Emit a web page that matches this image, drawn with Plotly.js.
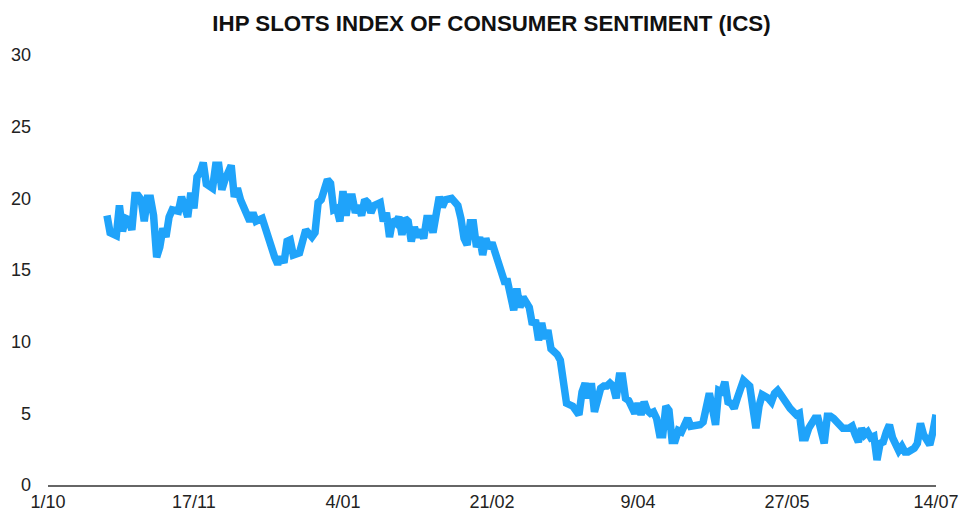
<!DOCTYPE html>
<html>
<head>
<meta charset="utf-8">
<script src="https://cdn.plot.ly/plotly-3.0.1.min.js"></script>
<style>html,body{margin:0;padding:0;background:#fff;}#chart{width:960px;height:512px;}</style>
</head>
<body>
<div id="chart"></div>
<script>
const chartTitle = "IHP SLOTS INDEX OF CONSUMER SENTIMENT (ICS)";
const dates = [
"2018-10-20","2018-10-21","2018-10-23","2018-10-24","2018-10-25","2018-10-26","2018-10-27","2018-10-28","2018-10-29","2018-10-30","2018-10-31",
"2018-11-01","2018-11-02","2018-11-03","2018-11-04","2018-11-05","2018-11-06","2018-11-07","2018-11-08","2018-11-09","2018-11-10","2018-11-12","2018-11-13","2018-11-15","2018-11-16","2018-11-17","2018-11-18","2018-11-19","2018-11-20","2018-11-21","2018-11-23","2018-11-24","2018-11-25","2018-11-26","2018-11-27","2018-11-29","2018-11-30",
"2018-12-01","2018-12-02","2018-12-03","2018-12-04","2018-12-05","2018-12-06","2018-12-07","2018-12-09","2018-12-10","2018-12-11","2018-12-12","2018-12-13","2018-12-14","2018-12-15","2018-12-16","2018-12-17","2018-12-18","2018-12-19","2018-12-21","2018-12-22","2018-12-23","2018-12-25","2018-12-26","2018-12-27","2018-12-28","2018-12-29","2018-12-30","2018-12-31",
"2019-01-01","2019-01-02","2019-01-03","2019-01-04","2019-01-05","2019-01-06","2019-01-07","2019-01-08","2019-01-09","2019-01-10","2019-01-11","2019-01-12","2019-01-13","2019-01-14","2019-01-16","2019-01-17","2019-01-18","2019-01-19","2019-01-20","2019-01-21","2019-01-22","2019-01-23","2019-01-24","2019-01-25","2019-01-26","2019-01-27","2019-01-28","2019-01-29","2019-01-30","2019-01-31",
"2019-02-01","2019-02-02","2019-02-03","2019-02-04","2019-02-05","2019-02-06","2019-02-08","2019-02-10","2019-02-11","2019-02-12","2019-02-13","2019-02-14","2019-02-15","2019-02-16","2019-02-17","2019-02-18","2019-02-19","2019-02-20","2019-02-21","2019-02-22","2019-02-23","2019-02-24","2019-02-25","2019-02-26","2019-02-27","2019-02-28",
"2019-03-01","2019-03-02","2019-03-03","2019-03-05","2019-03-06","2019-03-07","2019-03-08","2019-03-09","2019-03-10","2019-03-11","2019-03-12","2019-03-14","2019-03-15","2019-03-16","2019-03-17","2019-03-19","2019-03-20","2019-03-21","2019-03-22","2019-03-23","2019-03-24","2019-03-25","2019-03-26","2019-03-27","2019-03-28","2019-03-29","2019-03-30","2019-03-31",
"2019-04-01","2019-04-02","2019-04-03","2019-04-04","2019-04-05","2019-04-06","2019-04-07","2019-04-08","2019-04-09","2019-04-10","2019-04-11","2019-04-12","2019-04-13","2019-04-14","2019-04-15","2019-04-16","2019-04-17","2019-04-18","2019-04-19","2019-04-20","2019-04-21","2019-04-22","2019-04-23","2019-04-24","2019-04-25","2019-04-26","2019-04-28","2019-04-29","2019-04-30",
"2019-05-01","2019-05-02","2019-05-03","2019-05-04","2019-05-05","2019-05-06","2019-05-07","2019-05-08","2019-05-09","2019-05-10","2019-05-11","2019-05-12","2019-05-13","2019-05-15","2019-05-16","2019-05-17","2019-05-18","2019-05-19","2019-05-21","2019-05-22","2019-05-23","2019-05-24","2019-05-25","2019-05-27","2019-05-28","2019-05-30","2019-05-31",
"2019-06-01","2019-06-02","2019-06-03","2019-06-04","2019-06-05","2019-06-06","2019-06-07","2019-06-08","2019-06-09","2019-06-10","2019-06-11","2019-06-13","2019-06-14","2019-06-16","2019-06-17","2019-06-18","2019-06-19","2019-06-20","2019-06-21","2019-06-22","2019-06-23","2019-06-24","2019-06-25","2019-06-26","2019-06-27","2019-06-28","2019-06-29","2019-06-30",
"2019-07-01","2019-07-02","2019-07-03","2019-07-04","2019-07-05","2019-07-07","2019-07-08","2019-07-09","2019-07-10","2019-07-11","2019-07-12","2019-07-13","2019-07-14"
];
const ics = [
18.8,17.6,17.4,19.5,17.7,18.6,18.5,17.8,20.2,20.2,19.9,
18.4,20.0,20.0,18.8,15.9,16.6,17.9,17.3,18.7,19.2,19.1,20.1,18.7,20.4,19.3,21.5,21.8,22.5,21.0,20.7,22.3,22.3,20.6,21.3,22.3,20.1,
20.7,19.9,19.4,18.7,18.4,19.0,18.4,18.6,17.9,16.9,16.5,15.9,15.4,15.9,15.5,17.0,17.1,16.05,16.2,16.9,17.8,17.3,17.6,19.7,19.9,20.6,21.3,21.05,
19.2,19.3,18.4,20.5,18.8,20.1,20.1,19.0,19.5,18.8,19.9,19.7,19.0,19.5,19.7,18.4,19.0,17.3,18.5,18.3,18.7,17.45,18.6,18.4,17.0,18.0,17.3,17.8,17.2,18.6,
18.6,17.6,19.2,20.1,19.4,19.9,20.0,19.5,18.6,17.2,16.75,18.3,18.3,16.6,17.3,16.05,17.2,16.5,16.9,16.2,15.7,14.9,14.2,14.2,12.9,12.2,
13.7,12.4,13.1,12.4,11.2,11.5,10.1,11.3,10.2,10.8,9.5,9.1,8.7,7.45,5.7,5.5,5.1,4.9,6.5,7.1,6.05,7.1,5.1,6.05,6.75,6.9,6.9,7.1,
6.9,6.05,7.6,7.6,6.05,5.9,5.35,5.0,5.7,4.9,5.8,5.2,5.0,5.1,4.65,3.5,3.5,5.5,5.2,3.1,3.1,3.8,3.7,4.2,4.65,4.1,4.1,4.2,4.4,
5.5,6.4,5.35,4.2,6.6,6.5,7.2,5.8,5.7,5.35,6.05,6.9,7.3,6.9,5.5,3.96,5.5,6.3,6.05,5.8,6.4,6.6,6.3,5.5,5.35,4.9,5.0,
3.3,3.3,3.96,4.3,4.65,4.65,3.7,2.9,4.8,4.8,4.65,4.2,3.96,3.96,4.1,3.5,3.0,3.96,3.5,3.7,3.3,3.4,1.74,2.9,3.0,3.7,4.2,3.3,
2.7,2.4,2.7,2.3,2.3,2.56,2.9,4.3,3.5,3.2,2.8,3.7,4.9
];
const xTickVals = ["2018-10-01","2018-11-17","2019-01-04","2019-02-21","2019-04-09","2019-05-27","2019-07-14"];
const xTickText = ["1/10","17/11","4/01","21/02","9/04","27/05","14/07"];
const yTickVals = [0,5,10,15,20,25,30];

const trace = {
  x: dates, y: ics, type: 'scatter', mode: 'lines',
  line: {color: '#1FA3FA', width: 7.5, shape: 'linear'},
  hoverinfo: 'x+y'
};
const layout = {
  width: 960, height: 512,
  margin: {l: 48, r: 24, t: 55, b: 27, pad: 0},
  paper_bgcolor: '#ffffff', plot_bgcolor: '#ffffff',
  showlegend: false,
  font: {family: '"Liberation Sans", Arial, sans-serif', color: '#222', size: 18},
  title: {text: '<b>' + chartTitle + '</b>', x: 0.512, xanchor: 'center', y: 0.955, yanchor: 'middle',
          font: {family: '"Liberation Sans", Arial, sans-serif', size: 22.3, color: '#111'}},
  xaxis: {
    type: 'date', range: ["2018-10-01", "2019-07-14"],
    tickmode: 'array', tickvals: xTickVals, ticktext: xTickText,
    showgrid: false, zeroline: false, showline: true, linecolor: '#666', linewidth: 1.5,
    ticks: '', ticklabelstandoff: 0, automargin: false,
    tickfont: {size: 18, color: '#222'}
  },
  yaxis: {
    range: [0, 30], tickmode: 'array', tickvals: yTickVals,
    showgrid: false, zeroline: false, showline: false,
    ticks: '', ticklabelstandoff: 16, automargin: false,
    tickfont: {size: 18, color: '#222'}
  }
};
Plotly.newPlot('chart', [trace], layout, {displayModeBar: false, staticPlot: true});
</script>
</body>
</html>
